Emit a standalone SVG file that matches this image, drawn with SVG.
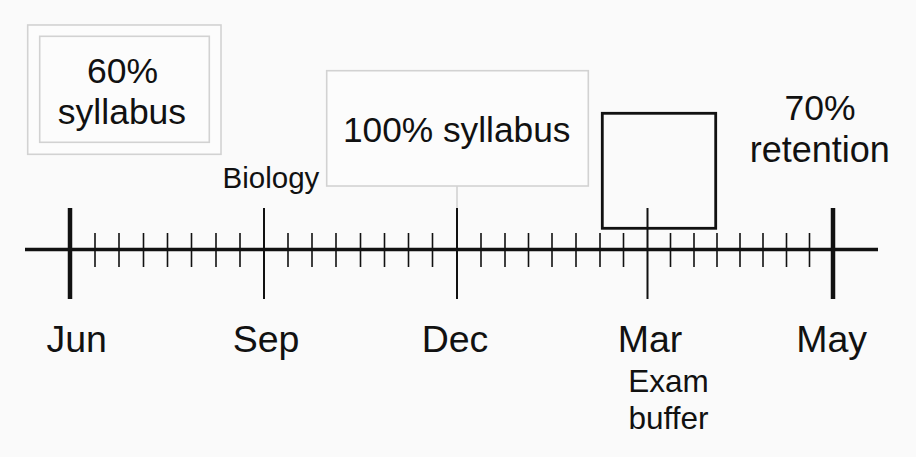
<svg xmlns="http://www.w3.org/2000/svg" width="916" height="457" viewBox="0 0 916 457">
<style>
text{font-family:"Liberation Sans",Arial,sans-serif;fill:#111;text-anchor:middle}
.box{fill:#fcfcfc;stroke:#d2d2d2;stroke-width:1.6}
.minor{stroke:#111;stroke-width:1.6}
.major{stroke:#111;stroke-width:2}
.end{stroke:#111;stroke-width:4.5}
.lbl{font-size:37.5px}
</style>
<rect width="916" height="457" fill="#fafafa"/>
<g id="axis">
<line x1="25" y1="249.5" x2="878" y2="249.5" stroke="#111" stroke-width="3.5"/>
<line class="end" x1="70" y1="208" x2="70" y2="299"/>
<line class="end" x1="833" y1="208" x2="833" y2="299"/>
<line class="major" x1="264" y1="208" x2="264" y2="299"/>
<line class="major" x1="457" y1="208" x2="457" y2="299"/>
<line class="major" x1="647.5" y1="208" x2="647.5" y2="299"/>
<path class="minor" d="M95,233V267M119,233V267M143.5,233V267M167.5,233V267M191.5,233V267M216,233V267M240,233V267M288,233V267M312,233V267M336,233V267M360.5,233V267M384.5,233V267M408.5,233V267M432.5,233V267M481,233V267M505,233V267M528.5,233V267M552,233V267M576,233V267M600,233V267M623.5,233V267M670.5,233V267M694,233V267M717,233V267M740,233V267M763,233V267M786.5,233V267M809.5,233V267"/>
</g>
<g id="connectors">
<line x1="457" y1="186" x2="457" y2="208" stroke="#d2d2d2" stroke-width="1.6"/>
</g>
<g id="node-60">
<rect class="box" x="27.7" y="25" width="193.3" height="129.3"/>
<rect class="box" x="39.7" y="36.3" width="169.6" height="106"/>
<text x="122.5" y="82.5" font-size="35.5">60%</text>
<text x="122" y="124" font-size="35.5">syllabus</text>
</g>
<g id="node-100">
<rect class="box" x="326.7" y="70.7" width="261.6" height="115.3"/>
<text x="456.7" y="141.5" font-size="35.3">100% syllabus</text>
</g>
<g id="node-biology">
<text x="271" y="187.5" font-size="29.5">Biology</text>
</g>
<g id="node-exam">
<rect x="602.3" y="113.3" width="113.4" height="115" fill="none" stroke="#111" stroke-width="2.8"/>
<text x="668.5" y="391.5" font-size="31.5">Exam</text>
<text x="668.5" y="429" font-size="31.5">buffer</text>
</g>
<g id="node-retention">
<text x="820" y="120" font-size="35.5">70%</text>
<text x="819.7" y="161.7" font-size="36">retention</text>
</g>
<g id="months">
<text class="lbl" x="76.7" y="352.3">Jun</text>
<text class="lbl" x="266" y="352.3">Sep</text>
<text class="lbl" x="455" y="352.3">Dec</text>
<text class="lbl" x="650" y="352.3">Mar</text>
<text class="lbl" x="831.7" y="352.3">May</text>
</g>
</svg>
